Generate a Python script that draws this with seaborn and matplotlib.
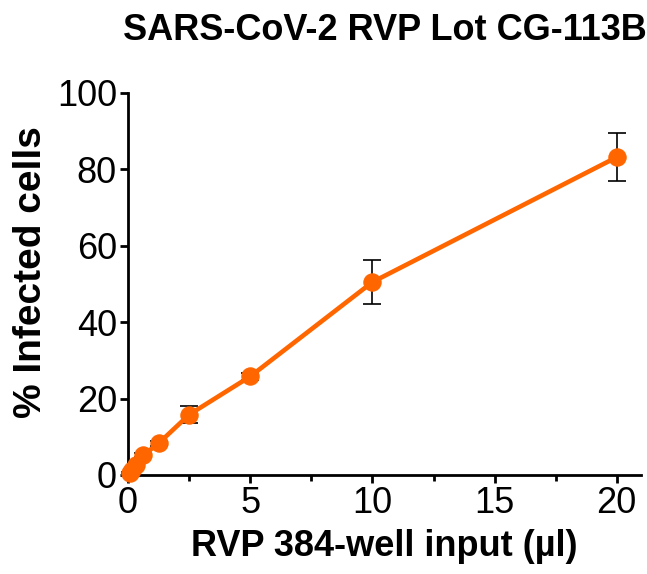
import numpy as np
import pandas as pd
import matplotlib
matplotlib.use("Agg")
import matplotlib.pyplot as plt
import seaborn as sns
from matplotlib.ticker import MultipleLocator

# --- Data ---
rvp_input = [0.078, 0.156, 0.3125, 0.625, 1.25, 2.5, 5, 10, 20]
infected_pct = [0.5, 1.2, 2.6, 5.2, 8.3, 15.8, 25.8, 50.5, 83.2]
infected_sd = [0.3, 0.4, 0.5, 0.6, 0.6, 2.3, 1.0, 5.7, 6.2]

df = pd.DataFrame({"input": rvp_input, "pct": infected_pct, "sd": infected_sd})

sns.set_style("ticks")
plt.rcParams["font.family"] = ["Liberation Sans", "DejaVu Sans"]
plt.rcParams["text.color"] = "black"
plt.rcParams["axes.labelcolor"] = "black"

orange = "#FF6600"

fig = plt.figure(figsize=(6.47, 5.74), dpi=100)
ax = fig.add_axes([0.198, 0.1725, 0.793, 0.6655])

# error bars behind the markers
ax.errorbar(df["input"], df["pct"], yerr=df["sd"], fmt="none", ecolor="black",
            elinewidth=1.2, capsize=6.5, capthick=1.2, zorder=1, clip_on=False)

sns.lineplot(data=df, x="input", y="pct", ax=ax, color=orange, linewidth=3.3,
             marker="o", markersize=12.5, markeredgecolor=orange, zorder=3,
             clip_on=False)

ax.set_xlim(0, 21)
ax.set_ylim(0, 100)
ax.set_xticks([0, 5, 10, 15, 20])
ax.xaxis.set_minor_locator(MultipleLocator(2.5))
ax.set_yticks([0, 20, 40, 60, 80, 100])

for s in ["top", "right"]:
    ax.spines[s].set_visible(False)
for s in ["left", "bottom"]:
    ax.spines[s].set_linewidth(2)
    ax.spines[s].set_color("black")

ax.tick_params(axis="both", which="major", length=6, width=2, labelsize=26,
               color="black", labelcolor="black", pad=2)
ax.tick_params(axis="x", which="minor", length=4, width=2, color="black")

ax.set_xlabel("RVP 384-well input (µl)", fontsize=26, fontweight="bold", labelpad=6)
ax.set_ylabel("% Infected cells", fontsize=28, fontweight="bold")
ax.yaxis.set_label_coords(-0.155, 0.53)
ax.set_title("SARS-CoV-2 RVP Lot CG-113B", fontsize=26, fontweight="bold", pad=38)

fig.savefig("out.png", dpi=100)
